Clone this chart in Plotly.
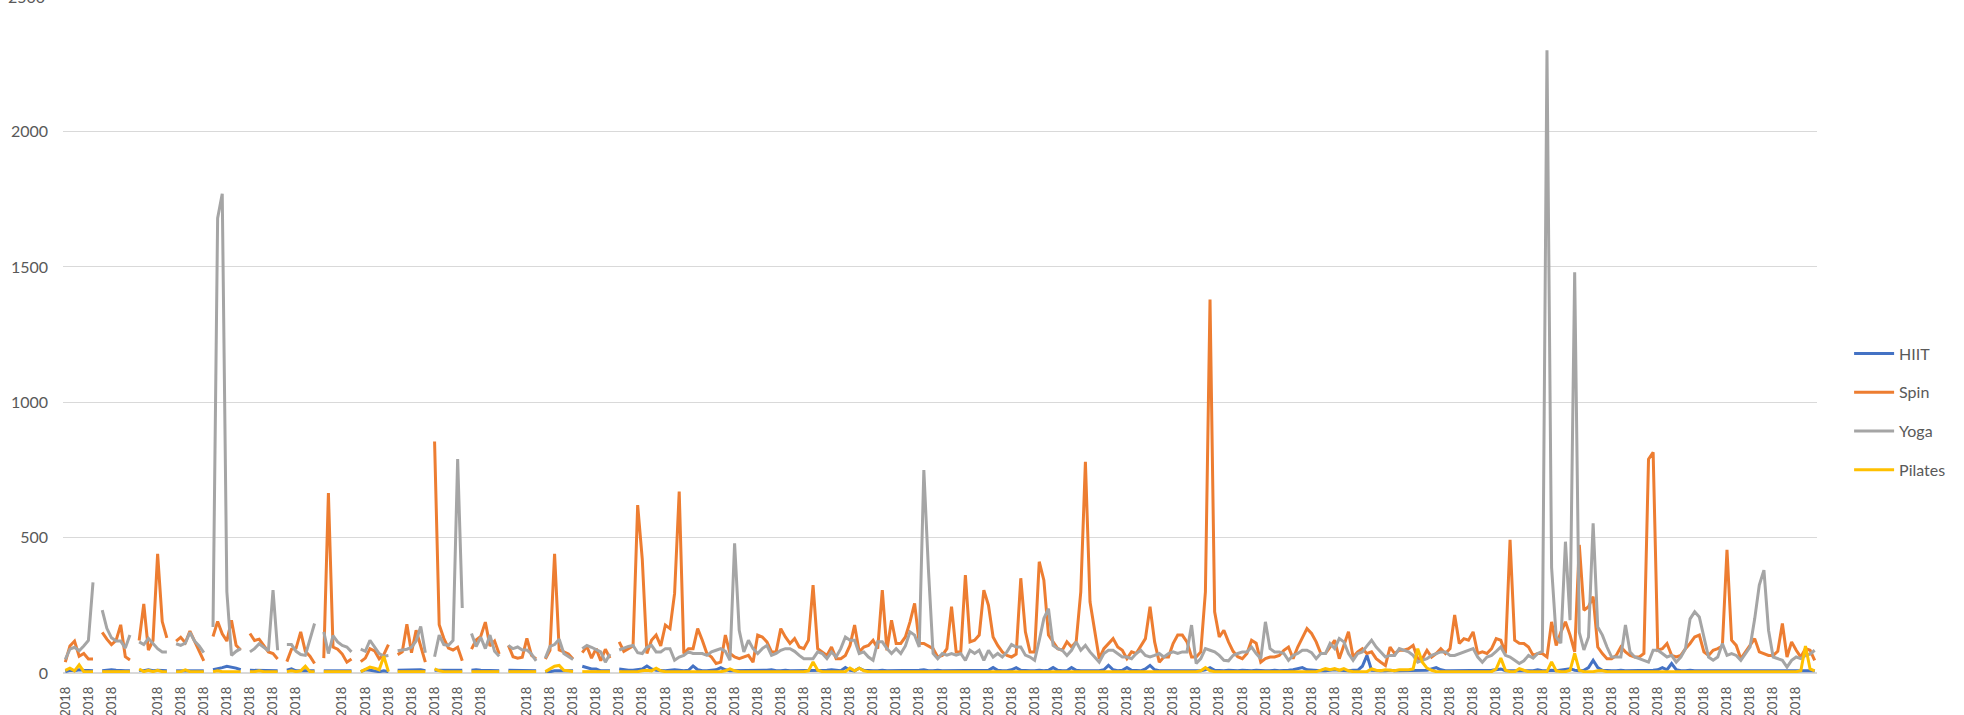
import plotly.graph_objects as go
import pandas as pd

# ---------------- data ----------------
# Daily totals for 2018; the first 15 weeks are separated by a blank row (None)
series_names = ["HIIT", "Spin", "Yoga", "Pilates"]
series_colors = ["#4472C4", "#ED7D31", "#A5A5A5", "#FFC000"]

hiit = [
    5, 10, 8, 12, 10, 8, 8, None,
    8, 10, 12, 10, 8, 8, 8, None,
    10, 8, 12, 8, 10, 8, 8, None,
    8, 8, 8, 10, 8, 8, 8, None,
    12, 15, 20, 25, 22, 18, 12, None,
    10, 10, 10, 8, 8, 8, 8, None,
    10, 15, 8, 8, 8, 8, 8, None,
    8, 8, 8, 8, 8, 8, 8, None,
    5, 12, 10, 8, 5, 8, 5, None,
    10, 10, 12, 12, 10, 12, 8, None,
    10, 10, 10, 8, 8, 8, 10, None,
    10, 12, 10, 10, 10, 8, 8, None,
    10, 10, 8, 8, 8, 8, 8, None,
    5, 5, 8, 8, 8, 8, 8, None,
    25, 20, 15, 15, 8, 8, 8, None,
    15, 12, 10, 10, 12, 15, 26, 15, 10, 8,
    8, 10, 12, 10, 8, 10, 26, 12, 8, 8,
    10, 12, 20, 12, 8, 8, 10, 8, 8, 10,
    8, 8, 10, 12, 8, 8, 10, 8, 8, 8,
    8, 10, 8, 8, 8, 10, 12, 10, 8, 20,
    10, 8, 18, 10, 8, 8, 8, 10, 8, 8,
    8, 10, 8, 8, 8, 10, 12, 8, 8, 10,
    8, 8, 10, 8, 8, 8, 10, 8, 8, 8,
    10, 20, 10, 8, 8, 12, 20, 10, 8, 8,
    8, 10, 8, 10, 20, 10, 8, 8, 20, 10,
    8, 8, 10, 8, 8, 12, 28, 12, 8, 10,
    20, 10, 8, 8, 15, 28, 12, 8, 8, 8,
    8, 10, 8, 8, 10, 8, 8, 12, 20, 10,
    8, 8, 10, 8, 8, 10, 8, 8, 10, 8,
    8, 8, 10, 8, 8, 10, 12, 15, 20, 12,
    10, 8, 8, 8, 10, 12, 10, 8, 8, 10,
    10, 25, 65, 10, 8, 8, 8, 10, 8, 8,
    8, 10, 8, 8, 8, 10, 15, 20, 12, 8,
    8, 8, 10, 8, 8, 8, 10, 8, 8, 10,
    12, 15, 8, 8, 10, 8, 8, 10, 8, 12,
    8, 8, 10, 8, 10, 12, 16, 10, 8, 10,
    20, 47, 20, 10, 8, 8, 8, 10, 8, 8,
    8, 8, 10, 8, 10, 12, 20, 12, 35, 12,
    8, 8, 10, 8, 8, 8, 10, 8, 8, 8,
    8, 10, 8, 8, 8, 10, 8, 8, 8, 8,
    10, 8, 8, 8, 10, 8, 8, 8, 10, 8,
]

spin = [
    40, 100, 118, 62, 72, 52, 52, None,
    150, 125, 105, 120, 178, 60, 48, None,
    120, 255, 85, 120, 440, 190, 130, None,
    118, 132, 112, 155, 118, 80, 45, None,
    135, 190, 145, 118, 195, 102, 85, None,
    146, 120, 125, 100, 78, 72, 52, None,
    42, 88, 92, 152, 80, 62, 35, None,
    55, 665, 96, 88, 70, 40, 52, None,
    42, 55, 90, 82, 52, 68, 105, None,
    68, 78, 180, 75, 158, 95, 40, None,
    855, 178, 128, 92, 85, 95, 45, None,
    88, 122, 135, 188, 100, 118, 70, None,
    102, 60, 55, 58, 128, 65, 52, None,
    52, 84, 440, 85, 78, 70, 52, None,
    75, 98, 55, 90, 45, 88, 55, None,
    115, 80, 90, 100, 620, 420, 72, 121, 140, 100,
    177, 164, 294, 670, 72, 90, 90, 164, 121, 72,
    59, 35, 40, 140, 72, 59, 53, 59, 65, 40,
    140, 133, 115, 78, 78, 164, 133, 109, 127, 96,
    90, 121, 325, 90, 78, 65, 96, 53, 53, 65,
    102, 177, 78, 96, 102, 121, 90, 306, 84, 195,
    109, 109, 133, 189, 257, 110, 109, 100, 90, 59,
    65, 90, 245, 78, 78, 362, 115, 121, 140, 306,
    250, 133, 102, 78, 65, 59, 70, 350, 152, 78,
    78, 411, 343, 140, 115, 90, 84, 115, 96, 115,
    300, 780, 263, 152, 53, 90, 109, 127, 96, 84,
    53, 78, 72, 100, 127, 245, 115, 40, 59, 59,
    109, 140, 140, 115, 59, 59, 78, 300, 1380, 226,
    133, 158, 115, 80, 60, 53, 72, 121, 110, 40,
    53, 59, 59, 65, 84, 96, 53, 96, 130, 164,
    146, 115, 72, 72, 96, 121, 53, 102, 152, 59,
    78, 90, 72, 78, 53, 40, 28, 96, 72, 84,
    84, 90, 102, 53, 53, 84, 59, 72, 90, 72,
    90, 214, 109, 127, 121, 152, 72, 78, 72, 90,
    127, 121, 72, 492, 121, 110, 109, 96, 65, 72,
    72, 59, 189, 102, 150, 189, 140, 78, 473, 232,
    245, 282, 96, 72, 53, 53, 65, 96, 78, 65,
    59, 59, 72, 790, 815, 84, 90, 109, 65, 59,
    65, 90, 109, 133, 140, 78, 65, 84, 90, 100,
    455, 121, 102, 53, 78, 102, 127, 78, 72, 65,
    65, 80, 183, 59, 115, 84, 59, 90, 84, 47,
]

yoga = [
    50, 88, 95, 82, 100, 120, 335, None,
    232, 165, 130, 118, 118, 92, 140, None,
    115, 105, 128, 108, 90, 78, 78, None,
    108, 102, 110, 150, 118, 100, 75, None,
    170, 1680, 1770, 300, 65, 80, 90, None,
    78, 90, 108, 96, 82, 306, 84, None,
    105, 105, 80, 68, 65, 125, 183, None,
    152, 72, 138, 115, 102, 96, 78, None,
    88, 80, 121, 98, 72, 62, 65, None,
    82, 84, 88, 95, 118, 172, 75, None,
    60, 140, 105, 102, 120, 790, 240, None,
    146, 98, 132, 90, 140, 80, 62, None,
    102, 90, 96, 85, 85, 70, 45, None,
    55, 98, 105, 125, 72, 62, 50, None,
    90, 102, 95, 88, 78, 40, 70, None,
    85, 92, 98, 102, 75, 72, 95, 102, 78, 78,
    90, 90, 47, 59, 65, 78, 72, 72, 72, 65,
    78, 84, 90, 80, 47, 479, 158, 78, 121, 90,
    72, 90, 102, 65, 72, 84, 90, 90, 80, 65,
    53, 53, 53, 78, 72, 53, 78, 59, 90, 133,
    121, 121, 72, 78, 59, 47, 115, 115, 90, 72,
    90, 72, 100, 152, 140, 96, 750, 380, 72, 53,
    72, 66, 72, 66, 72, 47, 84, 72, 84, 47,
    84, 59, 72, 59, 78, 105, 96, 96, 66, 59,
    47, 120, 201, 238, 102, 90, 84, 65, 84, 115,
    84, 102, 78, 59, 40, 72, 84, 84, 72, 59,
    59, 53, 72, 84, 65, 59, 65, 72, 59, 72,
    78, 72, 78, 78, 177, 35, 53, 90, 84, 78,
    65, 47, 45, 65, 72, 78, 78, 96, 72, 53,
    189, 90, 78, 78, 72, 47, 65, 72, 84, 84,
    75, 53, 72, 72, 109, 90, 127, 115, 72, 47,
    72, 78, 100, 121, 96, 78, 59, 65, 65, 90,
    84, 78, 65, 40, 47, 53, 65, 72, 78, 78,
    65, 65, 72, 78, 84, 90, 59, 40, 59, 65,
    80, 96, 65, 59, 47, 35, 45, 65, 55, 72,
    80, 2300, 390, 133, 110, 485, 195, 1480, 150, 85,
    133, 553, 170, 140, 96, 59, 59, 59, 177, 78,
    59, 53, 47, 40, 84, 84, 72, 59, 65, 40,
    59, 90, 200, 226, 207, 127, 59, 47, 59, 109,
    65, 72, 65, 47, 72, 96, 200, 325, 380, 158,
    59, 53, 47, 22, 47, 59, 53, 65, 70, 84,
]

pilates = [
    10, 18, 8, 30, 5, 5, 5, None,
    5, 5, 5, 5, 5, 5, 5, None,
    15, 5, 10, 5, 10, 5, 5, None,
    5, 5, 12, 5, 5, 5, 5, None,
    5, 8, 5, 5, 5, 5, 5, None,
    5, 5, 8, 5, 5, 5, 5, None,
    5, 8, 5, 8, 25, 5, 5, None,
    5, 5, 5, 5, 5, 5, 5, None,
    5, 15, 22, 18, 12, 62, 5, None,
    5, 5, 5, 5, 5, 5, 5, None,
    15, 8, 5, 5, 5, 5, 5, None,
    5, 5, 5, 5, 5, 5, 5, None,
    5, 5, 5, 5, 5, 5, 5, None,
    5, 15, 25, 28, 10, 8, 5, None,
    5, 5, 5, 5, 5, 5, 5, None,
    5, 5, 5, 5, 5, 8, 10, 8, 18, 8,
    5, 5, 5, 5, 5, 5, 5, 5, 5, 5,
    5, 5, 5, 8, 15, 8, 5, 5, 5, 5,
    5, 5, 5, 5, 5, 5, 5, 5, 5, 5,
    5, 8, 41, 10, 5, 5, 5, 5, 5, 5,
    18, 8, 18, 8, 5, 5, 5, 5, 5, 5,
    5, 5, 5, 5, 5, 5, 5, 5, 5, 5,
    5, 5, 5, 5, 5, 5, 5, 5, 5, 5,
    5, 5, 5, 5, 5, 5, 5, 5, 5, 5,
    5, 5, 5, 5, 5, 5, 5, 5, 5, 5,
    5, 5, 5, 5, 5, 5, 5, 5, 5, 5,
    5, 5, 5, 5, 5, 5, 5, 5, 5, 5,
    5, 5, 5, 5, 5, 5, 8, 20, 8, 5,
    5, 5, 5, 5, 5, 5, 5, 5, 5, 5,
    5, 5, 5, 5, 5, 5, 5, 5, 5, 5,
    5, 5, 10, 16, 12, 16, 10, 16, 8, 5,
    5, 5, 5, 15, 10, 8, 12, 10, 8, 12,
    12, 12, 15, 90, 40, 18, 10, 5, 5, 5,
    5, 5, 5, 5, 5, 5, 5, 5, 5, 5,
    15, 55, 10, 5, 5, 16, 10, 5, 5, 5,
    5, 5, 41, 8, 5, 5, 10, 72, 10, 5,
    5, 5, 8, 8, 5, 5, 5, 5, 5, 5,
    5, 5, 5, 5, 5, 5, 5, 5, 5, 5,
    5, 5, 5, 5, 5, 5, 5, 5, 5, 5,
    5, 5, 5, 5, 5, 5, 5, 5, 5, 5,
    5, 5, 5, 5, 5, 5, 8, 100, 15, 8,
]

# category labels: dates of 2018, with a blank row after each of the first 15 weeks
dates = pd.date_range("2018-01-01", "2018-12-31", freq="D")
categories = []
for i, d in enumerate(dates):
    categories.append(f"{d.month}/{d.day}/{d.year}")
    if i < 105 and i % 7 == 6:
        categories.append("")

x_idx = list(range(len(categories)))
label_step = 5
tick_vals = [i for i in range(0, len(categories), label_step) if categories[i]]
tick_text = [categories[i] for i in tick_vals]

y_ticks = [0, 500, 1000, 1500, 2000]

# ---------------- figure ----------------
FONT = "Lato, 'Open Sans', sans-serif"
TXT = "#595959"

fig = go.Figure()
for name, vals, col in zip(series_names, [hiit, spin, yoga, pilates], series_colors):
    fig.add_trace(go.Scatter(
        x=x_idx, y=vals, name=name, mode="lines", connectgaps=False,
        legendgroup=name,
        line=dict(color=col, width=3, shape="linear"),
    ))

fig.update_layout(
    width=1964, height=715,
    margin=dict(l=63, r=147, t=0, b=42, autoexpand=False),
    paper_bgcolor="white", plot_bgcolor="white",
    font=dict(family=FONT, color=TXT, size=16),
    showlegend=True,
    legend=dict(
        x=1.0183, xanchor="left", y=0.5, yanchor="top",
        font=dict(size=16, color=TXT, family=FONT),
        tracegroupgap=15, itemwidth=40,
        bgcolor="rgba(0,0,0,0)",
    ),
    xaxis=dict(
        range=[-0.5, len(categories) - 0.5],
        tickmode="array", tickvals=tick_vals, ticktext=tick_text,
        tickangle=-90, showgrid=False, zeroline=False, showline=False,
        ticks="", tickfont=dict(size=13, color=TXT, family=FONT),
        ticklabelstandoff=10, automargin=False,
    ),
    yaxis=dict(
        range=[0, 2486], tickmode="array", tickvals=y_ticks,
        showgrid=True, gridcolor="#D9D9D9", gridwidth=1.3,
        zeroline=True, zerolinecolor="#D9D9D9", zerolinewidth=1.6,
        showline=False, ticks="",
        tickfont=dict(size=16, color=TXT, family=FONT),
        ticklabelstandoff=14, automargin=False,
    ),
    annotations=[dict(
        text="2500", xref="paper", yref="paper",
        x=-(63 - 47) / 1754, y=1 + 4 / 673, xanchor="right", yanchor="middle",
        showarrow=False, font=dict(size=16, color=TXT, family=FONT),
    )],
)

fig.write_html(
    "out.html",
    config={"displayModeBar": False},
    post_script="document.body.style.margin='0px';",
)
